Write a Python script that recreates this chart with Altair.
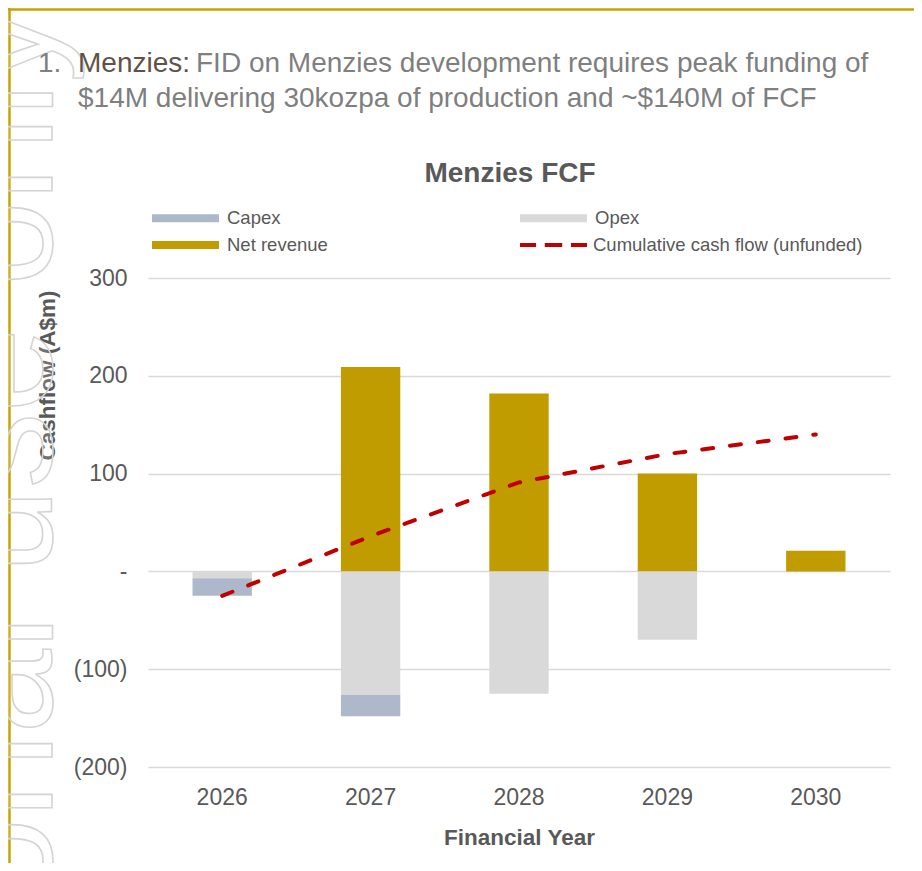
import altair as alt
import pandas as pd

# ---------------- data ----------------
years = ["2026", "2027", "2028", "2029", "2030"]
capex = [-18, -22, 0, 0, 0]
opex = [-7, -126, -125, -70, 0]
net_revenue = [0, 209, 182, 100, 21]
cumulative = [-25, 36, 91, 120, 140]

bar_names = ["Capex", "Opex", "Net revenue"]
bar_colors = ["#adb9ca", "#d9d9d9", "#c09c00"]
line_name = "Cumulative cash flow (unfunded)"
line_color = "#c00000"
y_ticks = [-200, -100, 0, 100, 200, 300]

header_num = "1."
header_key = "Menzies:"
header_line1 = "FID on Menzies development requires peak funding of"
header_line2 = "$14M delivering 30kozpa of production and ~$140M of FCF"
chart_title = "Menzies FCF"
x_title = "Financial Year"
y_title = "Cashflow (A$m)"
watermark = "For personal use only"

# ---------------- tables ----------------
rows = []
for i, yr in enumerate(years):
    rows.append({"Year": yr, "Series": "Net revenue", "Value": net_revenue[i], "Order": 0})
    rows.append({"Year": yr, "Series": "Opex", "Value": opex[i], "Order": 1})
    rows.append({"Year": yr, "Series": "Capex", "Value": capex[i], "Order": 2})
bar_df = pd.DataFrame(rows)
line_df = pd.DataFrame({"Year": years, "Value": cumulative,
                        "Series": [line_name] * len(years)})

W, H = 742, 489
PAD = {"left": 140, "top": 270, "right": 24, "bottom": 96}
FONT = "Liberation Sans"
TXT = "#595959"
GOLD = "#c8a200"
HDR = "#7f7f7f"

one = pd.DataFrame({"t": [""]})


def text_layer(txt, x, y, **kw):
    return alt.Chart(pd.DataFrame({"t": [txt]})).mark_text(**kw).encode(
        x=alt.value(x), y=alt.value(y), text="t:N")


frame_top = alt.Chart(one).mark_rule(color=GOLD, strokeWidth=2.5).encode(
    x=alt.value(-PAD["left"]), x2=alt.value(W + PAD["right"]), y=alt.value(-PAD["top"] + 1.5))
frame_left = alt.Chart(one).mark_rule(color=GOLD, strokeWidth=2.5).encode(
    x=alt.value(-PAD["left"] + 1.5), y=alt.value(-PAD["top"]), y2=alt.value(H + PAD["bottom"]))

wm = text_layer(watermark, -96, -271, font=FONT, fontSize=152, angle=270, align="right",
                baseline="alphabetic", fill="white", fillOpacity=0.15,
                stroke="#d4d4d4", strokeWidth=1.6)

hdr_num = text_layer(header_num, -110, -206, font=FONT, fontSize=28, color=HDR,
                     align="left", baseline="alphabetic")
hdr_key = text_layer(header_key, -70, -206, font=FONT, fontSize=28, color="#5f5346",
                     align="left", baseline="alphabetic")
hdr_l1 = text_layer(header_line1, 48, -206, font=FONT, fontSize=28, color=HDR,
                    align="left", baseline="alphabetic")
hdr_l2 = text_layer(header_line2, -70, -171, font=FONT, fontSize=28, color=HDR,
                    align="left", baseline="alphabetic")
title_t = text_layer(chart_title, 362, -96, font=FONT, fontSize=28, fontWeight="bold",
                     color=TXT, align="center", baseline="alphabetic")

leg_common = dict(title=None, orient="none", clipHeight=16, symbolSize=4489,
                  labelFont=FONT, labelFontSize=18.5, labelColor=TXT,
                  labelLimit=400, padding=0)

bar_legend = alt.Legend(legendX=4, legendY=-68, columns=2, direction="horizontal",
                        columnPadding=192, rowPadding=8, labelOffset=8,
                        symbolType="M-1,-0.12L1,-0.12L1,0.12L-1,0.12Z", symbolStrokeWidth=0,
                        symbolOpacity=1, **leg_common)
line_legend = alt.Legend(legendX=370, legendY=-41, labelOffset=4,
                         symbolType="M-1,0L-0.52,0M-0.26,0L0.26,0M0.52,0L1,0",
                         symbolStrokeWidth=4, symbolFillColor="transparent",
                         symbolStrokeColor=line_color, symbolOpacity=1, **leg_common)

x_enc = alt.X("Year:N", sort=years, scale=alt.Scale(paddingInner=0.6, paddingOuter=0.3),
              axis=alt.Axis(title=x_title, labelAngle=0, labelPadding=19, titleY=70,
                            titleBaseline="middle"))
y_enc = alt.Y("Value:Q", stack="zero", scale=alt.Scale(domain=[-200, 300], nice=False),
              axis=alt.Axis(title=y_title, values=y_ticks, grid=True, labelPadding=21,
                            labelExpr="datum.value > 0 ? format(datum.value, 'd') : "
                                      "datum.value < 0 ? '(' + format(-datum.value, 'd') + ')' : '-'",
                            titleAngle=270, titleX=-101, titleY=97, titleAlign="center",
                            titleBaseline="middle"))

bars = alt.Chart(bar_df).mark_bar().encode(
    x=x_enc, y=y_enc,
    fill=alt.Fill("Series:N", scale=alt.Scale(domain=bar_names, range=bar_colors),
                  legend=bar_legend),
    order=alt.Order("Order:Q"))

line = alt.Chart(line_df).mark_line(strokeDash=[11, 17], strokeWidth=4, strokeCap="round").encode(
    x=alt.X("Year:N", sort=years), y=alt.Y("Value:Q"),
    stroke=alt.Stroke("Series:N", scale=alt.Scale(domain=[line_name], range=[line_color]),
                      legend=line_legend))

chart = alt.layer(frame_top, frame_left, wm, hdr_num, hdr_key, hdr_l1, hdr_l2, title_t,
                  bars, line).properties(
    width=W, height=H, autosize=alt.AutoSizeParams(type="none"), padding=PAD,
    background="white",
).configure_view(stroke=None).configure_axis(
    labelFont=FONT, labelFontSize=23, labelColor=TXT, titleFont=FONT, titleFontSize=22.5,
    titleFontWeight="bold", titleColor=TXT, domain=False, ticks=False,
    gridColor="#d9d9d9", gridWidth=1.3,
).configure_axisX(grid=False)

chart.save("out.html", embed_options={"renderer": "svg", "actions": False})
